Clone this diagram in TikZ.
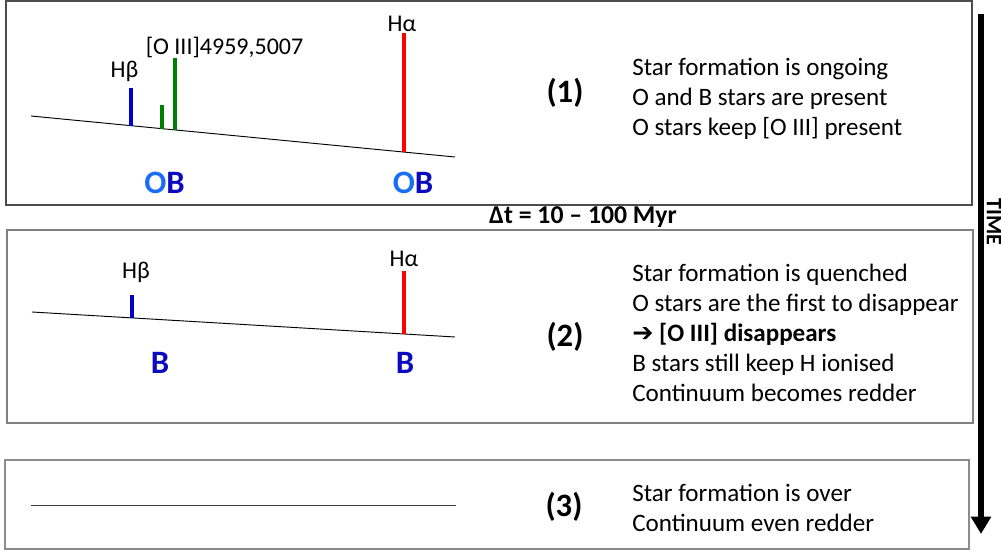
\documentclass[tikz,border=0pt]{standalone}
\usepackage{fontspec}
\setmainfont{Carlito}
\newfontfamily\symfont{DejaVu Sans}
\usetikzlibrary{arrows.meta}
\definecolor{Olight}{RGB}{25,110,245}
\definecolor{Bdark}{RGB}{10,10,190}
\definecolor{hbeta}{RGB}{0,0,200}
\definecolor{oiii}{RGB}{0,128,0}
\definecolor{halpha}{RGB}{255,0,0}
\tikzset{
  panel/.style={line width=0.9pt},
  cont/.style={line width=0.7pt, black},
  eline/.style={line width=2.3pt},
  lbl/.style={font=\fontsize{18}{21}\selectfont, inner sep=0pt, anchor=base},
  star/.style={font=\fontsize{24.5}{28}\selectfont\bfseries, inner sep=0pt, anchor=base},
  stage/.style={font=\fontsize{24.5}{28}\selectfont\bfseries, inner sep=0pt},
  desc/.style={font=\fontsize{18.8}{22.5}\selectfont, inner sep=0pt, anchor=west, align=left},
}
\begin{document}
\begin{tikzpicture}[x=0.75pt,y=-0.75pt]
\useasboundingbox (0,0) rectangle (1001,552);
% panels
\draw[panel, black!70] (6,1) rectangle (972,205);
\draw[panel, black!50] (7,230) rectangle (973,423);
\draw[panel, black!45] (5,460) rectangle (969,549);

% ---- panel 1
\coordinate (c1a) at (31,116);
\coordinate (c1b) at (455,157);
\draw[cont] (c1a) -- (c1b);
\draw[eline, hbeta] (131,125.7) -- (131,88);
\draw[eline, oiii] (162,128.7) -- (162,105);
\draw[eline, oiii] (175,129.9) -- (175,58);
\draw[eline, halpha] (404,152.1) -- (404,33);
\node[lbl] (hb1) at (124.5,78) {Hβ};
\node[lbl] (o3) at (224.5,55) {[O III]4959,5007};
\node[lbl] (ha1) at (402,32) {Hα};
\node[star] (ob1) at (164.5,194) {\textcolor{Olight}{O}\textcolor{Bdark}{B}};
\node[star] (ob2) at (413,194) {\textcolor{Olight}{O}\textcolor{Bdark}{B}};
\node[stage] (s1) at (565,93) {(1)};
\node[desc] (d1) at (632,99) {Star formation is ongoing\\O and B stars are present\\O stars keep [O III] present};

\node[font=\fontsize{19.3}{22}\selectfont\bfseries, inner sep=0pt] (dt) at (583,217) {Δt = 10 – 100 Myr};

% ---- panel 2
\coordinate (c2a) at (32,312);
\coordinate (c2b) at (455,337);
\draw[cont] (c2a) -- (c2b);
\draw[eline, hbeta] (132,317.9) -- (132,295);
\draw[eline, halpha] (404,334) -- (404,271);
\node[lbl] (hb2) at (136,279) {Hβ};
\node[lbl] (ha2) at (404,267) {Hα};
\node[star, text=Bdark] (b1) at (160,374) {B};
\node[star, text=Bdark] (b2) at (405,374) {B};
\node[stage] (s2) at (565,337) {(2)};
\node[desc] (d2) at (632,332.5) {Star formation is quenched\\O stars are the first to disappear\\{\symfont\bfseries\fontsize{19}{19}\selectfont ➔} \textbf{[O III] disappears}\\B stars still keep H ionised\\Continuum becomes redder};

% ---- panel 3
\coordinate (c3a) at (31,505);
\coordinate (c3b) at (456,505);
\draw[cont, black!75] (c3a) -- (c3b);
\node[stage] (s3) at (564,507) {(3)};
\node[desc] (d3) at (632,507.5) {Star formation is over\\Continuum even redder};

% ---- time arrow
\coordinate (tA) at (981,14);
\coordinate (tB) at (981,534);
\draw[line width=4.5pt, -{Triangle[width=14.5pt,length=13pt]}] (tA) -- (tB);
\node[rotate=-90, anchor=south, inner sep=0pt, font=\fontsize{16.5}{18}\selectfont\bfseries] (time) at (986.5,222) {TIME};
\end{tikzpicture}
\end{document}
